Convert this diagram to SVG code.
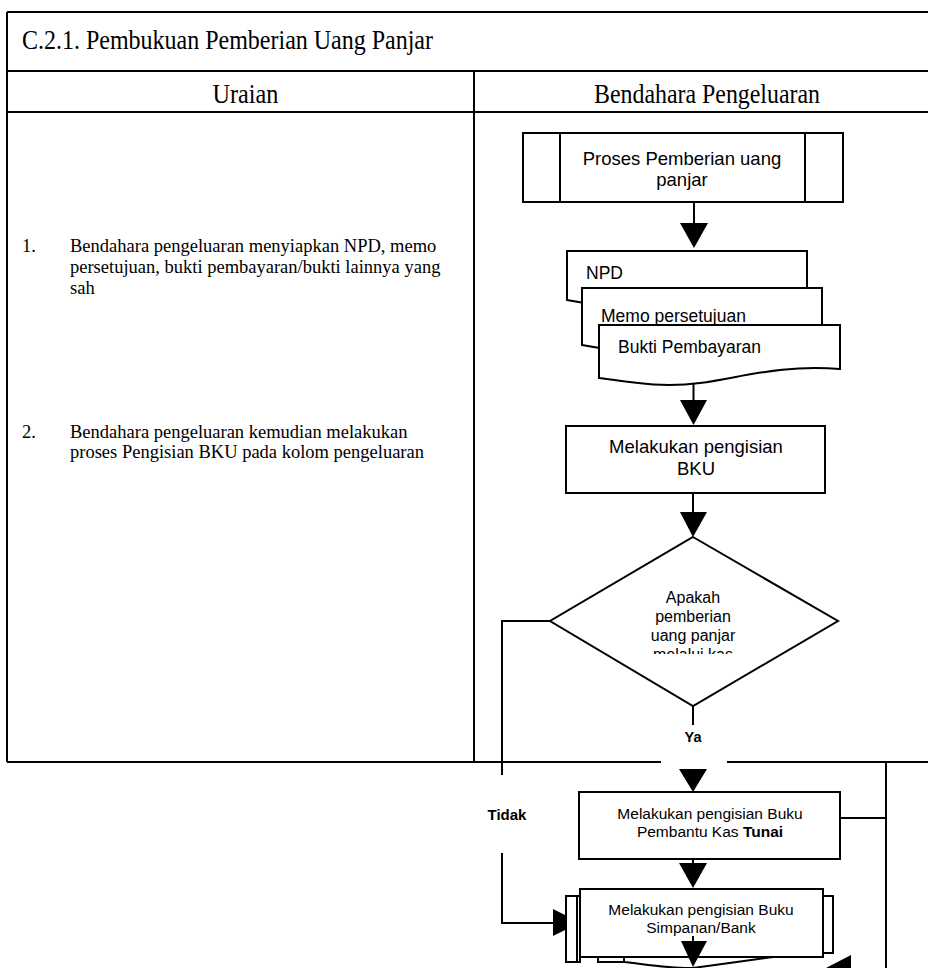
<svg xmlns="http://www.w3.org/2000/svg" width="928" height="968" viewBox="0 0 928 968">
<defs>
<style>
.tbl{stroke:#000;stroke-width:2;fill:none}
.ln{stroke:#000;stroke-width:2;fill:none}
.box{stroke:#000;stroke-width:2;fill:#fff}
.ah{fill:#000;stroke:none}
.serif{font-family:"Liberation Serif","Times New Roman",serif;fill:#000}
.sans{font-family:"Liberation Sans",Arial,sans-serif;fill:#000}
</style>
<clipPath id="dclip"><rect x="600" y="585" width="190" height="69"/></clipPath>
</defs>
<rect width="928" height="968" fill="#fff"/>
<g id="table">
<path class="tbl" d="M7,12 H928 M7,12 V762 M7,71 H928 M7,112 H928 M474,71 V762 M7,762 H661 M727,762 H928"/>
<text class="serif" x="22" y="49" font-size="27" textLength="411" lengthAdjust="spacingAndGlyphs">C.2.1. Pembukuan Pemberian Uang Panjar</text>
<text class="serif" x="212.5" y="103" font-size="28" textLength="66" lengthAdjust="spacingAndGlyphs">Uraian</text>
<text class="serif" x="594" y="103" font-size="28" textLength="226" lengthAdjust="spacingAndGlyphs">Bendahara Pengeluaran</text>
</g>
<g id="uraian">
<text class="serif" font-size="18.5"><tspan x="22" y="252">1.</tspan><tspan x="70" y="252">Bendahara pengeluaran menyiapkan NPD, memo</tspan><tspan x="70" y="273">persetujuan, bukti pembayaran/bukti lainnya yang</tspan><tspan x="70" y="294">sah</tspan></text>
<text class="serif" font-size="18.5"><tspan x="22" y="438">2.</tspan><tspan x="70" y="438">Bendahara pengeluaran kemudian melakukan</tspan><tspan x="70" y="458">proses Pengisian BKU pada kolom pengeluaran</tspan></text>
</g>
<g id="connectors">
<path class="ln" d="M694,202 V224"/>
<polygon class="ah" points="680,223 708,223 694,248"/>
<path class="ln" d="M693.5,380 V401"/>
<polygon class="ah" points="680,400 707,400 693.5,425"/>
<path class="ln" d="M693,493 V513"/>
<polygon class="ah" points="680,512 707,512 693,537"/>
<path class="ln" d="M693,706 V725"/>
<polygon class="ah" points="679,769 707,769 693,792"/>
<path class="ln" d="M693,859 V864"/>
<polygon class="ah" points="679,863 707,863 693,888"/>
<path class="ln" d="M550,621 H502 V775 M502,853 V923 H554"/>
<polygon class="ah" points="553,909 553,936 580,922.5"/>
<path class="ln" d="M840,818 H886 M886,761 V975 M886,969 H848"/>
<polygon class="ah" points="824,969 851,955 851,983"/>
<text class="sans" x="693" y="742" font-size="14.5" font-weight="bold" text-anchor="middle">Ya</text>
<text class="sans" x="507" y="820" font-size="15" font-weight="bold" text-anchor="middle">Tidak</text>
</g>
<g id="n-proses">
<rect class="box" x="523" y="133" width="320" height="69"/>
<path class="ln" d="M560,133 V202 M805,133 V202"/>
<text class="sans" font-size="18.5" text-anchor="middle"><tspan x="682" y="165">Proses Pemberian uang</tspan><tspan x="682" y="186">panjar</tspan></text>
</g>
<g id="n-dokumen">
<path class="box" d="M567,251 H807 V300 C760,296 720,300 680,306 C640,312 600,306 567,300 Z"/>
<text class="sans" x="586" y="279" font-size="17.5">NPD</text>
<path class="box" d="M582,288 H822 V345 C775,341 735,345 695,351 C655,357 615,351 582,345 Z"/>
<text class="sans" x="601" y="321.5" font-size="17.5">Memo persetujuan</text>
<path class="box" d="M599,325 H840 V369 C780,364 740,378 700,383 C660,388 630,382 599,378 Z"/>
<text class="sans" x="618" y="353" font-size="17.5">Bukti Pembayaran</text>
</g>
<g id="n-bku">
<rect class="box" x="566" y="426" width="259" height="67"/>
<text class="sans" font-size="18.5" text-anchor="middle"><tspan x="696" y="453">Melakukan pengisian</tspan><tspan x="696" y="475">BKU</tspan></text>
</g>
<g id="n-keputusan">
<polygon class="box" points="693,537 838,621 693,706 550,621"/>
<text class="sans" font-size="16" text-anchor="middle" clip-path="url(#dclip)"><tspan x="693" y="603">Apakah</tspan><tspan x="693" y="622">pemberian</tspan><tspan x="693" y="641">uang panjar</tspan><tspan x="693" y="660">melalui kas</tspan></text>
</g>
<g id="n-tunai">
<rect class="box" x="579" y="792" width="261" height="67"/>
<text class="sans" font-size="15.5" text-anchor="middle"><tspan x="710" y="819">Melakukan pengisian Buku</tspan><tspan x="710" y="837">Pembantu Kas <tspan font-weight="bold">Tunai</tspan></tspan></text>
</g>
<g id="n-bank">
<rect class="box" x="566" y="896" width="14" height="66"/>
<path class="ln" d="M577,896 V962"/>
<rect class="box" x="823" y="896" width="10" height="57"/>
<rect class="box" x="580" y="889" width="243" height="68"/>
<path class="ln" d="M598,957 V962 H624 M624,957 V962 C650,965 675,969 693,968 L773,957"/>
<text class="sans" font-size="15.5" text-anchor="middle"><tspan x="701" y="915">Melakukan pengisian Buku</tspan><tspan x="701" y="933">Simpanan/Bank</tspan></text>
<path class="ln" d="M693,936 V942"/>
<polygon class="ah" points="681,941 707,941 693,967"/>
</g>
</svg>
